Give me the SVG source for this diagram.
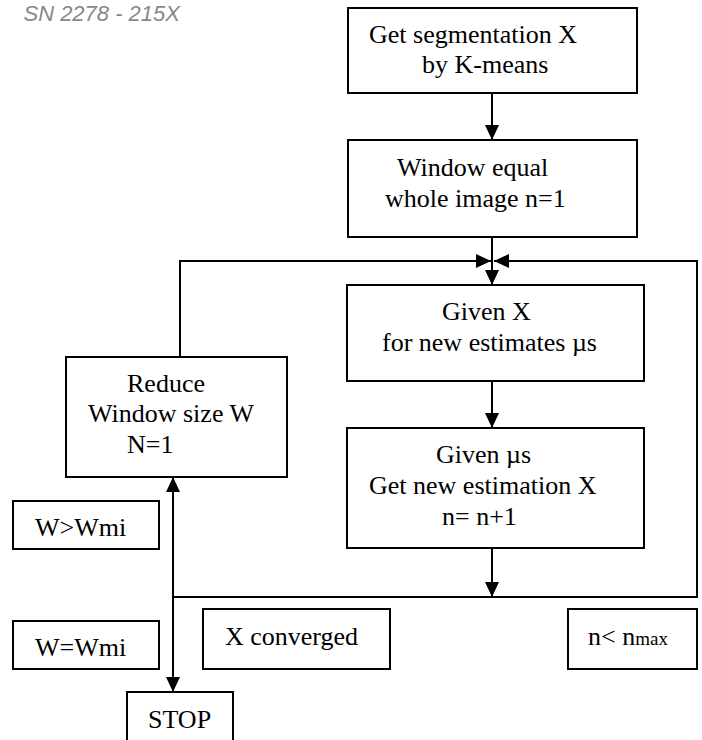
<svg xmlns="http://www.w3.org/2000/svg" width="702" height="740" viewBox="0 0 702 740">
<style>
.box{fill:#fff;stroke:#000;stroke-width:2}
.t{font-family:"Liberation Serif","Times New Roman","DejaVu Serif",serif;font-size:26px;fill:#000}
.c{fill:none;stroke:#000;stroke-width:2}
.h{font-family:"Liberation Sans",Arial,sans-serif;font-style:italic;font-size:22px;fill:#888}
</style>
<defs>
<marker id="ah" viewBox="0 0 15 14" refX="15" refY="7" markerWidth="15" markerHeight="14" markerUnits="userSpaceOnUse" orient="auto-start-reverse">
<path d="M0,0 L15,7 L0,14 z" fill="#000"/>
</marker>
</defs>
<rect width="702" height="740" fill="#fff"/>
<text class="h" x="180" y="21" text-anchor="end">SN 2278 - 215X</text>
<g id="connectors">
<path class="c" d="M492,93 V140" marker-end="url(#ah)"/>
<path class="c" d="M492,237 V285" marker-end="url(#ah)"/>
<path class="c" d="M180,357 V261 H491" marker-end="url(#ah)"/>
<path class="c" d="M492,381 V428" marker-end="url(#ah)"/>
<path class="c" d="M492,548 V597" marker-end="url(#ah)"/>
<path class="c" d="M173,597 H697 V261 H494" marker-end="url(#ah)"/>
<path class="c" d="M173,477 V692" marker-start="url(#ah)" marker-end="url(#ah)"/>
</g>
<g id="n1">
<rect class="box" x="348" y="8" width="289" height="85"/>
<text class="t" x="369" y="43">Get segmentation X</text>
<text class="t" x="422" y="73">by K-means</text>
</g>
<g id="n2">
<rect class="box" x="348" y="140" width="289" height="97"/>
<text class="t" x="397" y="176">Window equal</text>
<text class="t" x="385" y="207">whole image n=1</text>
</g>
<g id="n3">
<rect class="box" x="347" y="285" width="297" height="96"/>
<text class="t" x="442" y="320">Given X</text>
<text class="t" x="382" y="351">for new estimates µs</text>
</g>
<g id="n4">
<rect class="box" x="347" y="428" width="297" height="120"/>
<text class="t" x="436" y="463">Given µs</text>
<text class="t" x="369" y="494">Get new estimation X</text>
<text class="t" x="442" y="525">n= n+1</text>
</g>
<g id="n5">
<rect class="box" x="66" y="357" width="221" height="120"/>
<text class="t" x="127" y="392">Reduce</text>
<text class="t" x="88" y="422">Window size W</text>
<text class="t" x="127" y="453">N=1</text>
</g>
<g id="n6">
<rect class="box" x="13" y="501" width="146" height="48"/>
<text class="t" x="35" y="536">W&gt;Wmi</text>
</g>
<g id="n7">
<rect class="box" x="13" y="621" width="146" height="48"/>
<text class="t" x="35" y="656">W=Wmi</text>
</g>
<g id="n8">
<rect class="box" x="203" y="609" width="187" height="60"/>
<text class="t" x="225" y="645">X converged</text>
</g>
<g id="n9">
<rect class="box" x="568" y="609" width="129" height="60"/>
<text class="t" x="588" y="645">n&lt; n<tspan font-size="19">max</tspan></text>
</g>
<g id="n10">
<rect class="box" x="127" y="692" width="106" height="52"/>
<text class="t" x="148" y="728">STOP</text>
</g>
</svg>
